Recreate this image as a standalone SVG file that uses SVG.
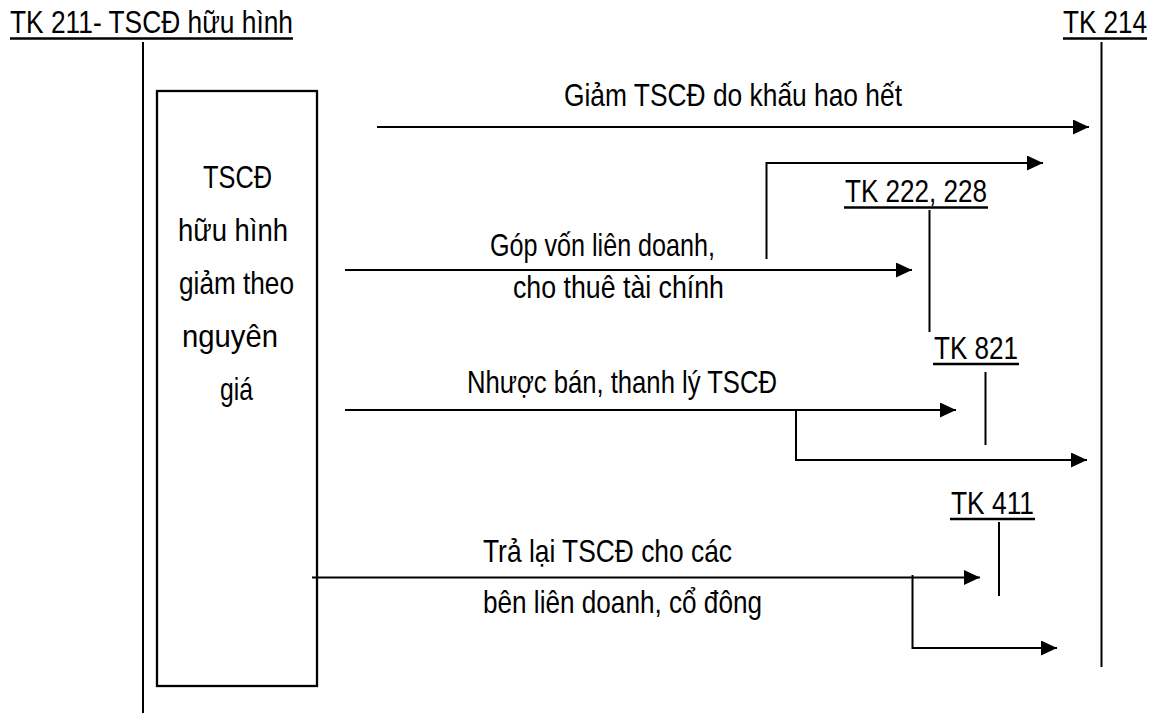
<svg xmlns="http://www.w3.org/2000/svg" width="1158" height="713" viewBox="0 0 1158 713">
<defs>
<marker id="ah" markerUnits="userSpaceOnUse" markerWidth="17" markerHeight="16" refX="16" refY="7.5" orient="auto">
<path d="M0,0 L16,7.5 L0,15 z" fill="#000"/>
</marker>
<style>
text{font-family:"Liberation Sans",Arial,sans-serif;font-size:30.5px;fill:#000}
.ln{stroke:#000;stroke-width:2;fill:none}
.ul{stroke:#000;stroke-width:2.5}
.ar{stroke:#000;stroke-width:2;fill:none;marker-end:url(#ah)}
</style>
</defs>
<rect width="1158" height="713" fill="#fff"/>

<g id="tk211">
<text x="10" y="33" textLength="283" lengthAdjust="spacingAndGlyphs">TK 211- TSCĐ hữu hình</text>
<line class="ul" x1="10" y1="38.5" x2="293" y2="38.5"/>
<line class="ln" x1="143" y1="42" x2="143" y2="713"/>
</g>

<g id="tk214">
<text x="1063" y="33" textLength="84" lengthAdjust="spacingAndGlyphs">TK 214</text>
<line class="ul" x1="1063" y1="38.5" x2="1147" y2="38.5"/>
<line class="ln" x1="1101.5" y1="42" x2="1101.5" y2="667"/>
</g>

<g id="box">
<rect x="157" y="91" width="160" height="595" fill="none" stroke="#000" stroke-width="2.3"/>
<text x="203" y="188" textLength="69" lengthAdjust="spacingAndGlyphs">TSCĐ</text>
<text x="178" y="241" textLength="110" lengthAdjust="spacingAndGlyphs">hữu hình</text>
<text x="179" y="294" textLength="115" lengthAdjust="spacingAndGlyphs">giảm theo</text>
<text x="182" y="347" textLength="96" lengthAdjust="spacingAndGlyphs">nguyên</text>
<text x="220" y="400" textLength="33" lengthAdjust="spacingAndGlyphs">giá</text>
</g>

<g id="tk222">
<text x="845" y="202" textLength="142" lengthAdjust="spacingAndGlyphs">TK 222, 228</text>
<line class="ul" x1="844" y1="207.5" x2="988" y2="207.5"/>
<line class="ln" x1="929.5" y1="210" x2="929.5" y2="332"/>
</g>

<g id="tk821">
<text x="934" y="359" textLength="84" lengthAdjust="spacingAndGlyphs">TK 821</text>
<line class="ul" x1="933" y1="364" x2="1019" y2="364"/>
<line class="ln" x1="985.5" y1="372" x2="985.5" y2="445"/>
</g>

<g id="tk411">
<text x="951" y="514" textLength="83" lengthAdjust="spacingAndGlyphs">TK 411</text>
<line class="ul" x1="950" y1="519" x2="1035" y2="519"/>
<line class="ln" x1="999" y1="522" x2="999" y2="596"/>
</g>

<g id="labels">
<text x="564" y="106" textLength="338" lengthAdjust="spacingAndGlyphs">Giảm TSCĐ do khấu hao hết</text>
<text x="490" y="256" textLength="225" lengthAdjust="spacingAndGlyphs">Góp vốn liên doanh,</text>
<text x="513" y="298" textLength="211" lengthAdjust="spacingAndGlyphs">cho thuê tài chính</text>
<text x="467" y="393" textLength="310" lengthAdjust="spacingAndGlyphs">Nhược bán, thanh lý TSCĐ</text>
<text x="483" y="562" textLength="249" lengthAdjust="spacingAndGlyphs">Trả lại TSCĐ cho các</text>
<text x="483" y="613" textLength="279" lengthAdjust="spacingAndGlyphs">bên liên doanh, cổ đông</text>
</g>

<g id="connectors">
<path class="ar" d="M377,127 H1089"/>
<path class="ar" d="M766.5,259 V163 H1043"/>
<path class="ar" d="M345,270 H912"/>
<path class="ar" d="M345,410 H956"/>
<path class="ar" d="M796,410 V460 H1087"/>
<path class="ar" d="M312,577.5 H980"/>
<path class="ar" d="M912.5,575 V648 H1057"/>
</g>
</svg>
